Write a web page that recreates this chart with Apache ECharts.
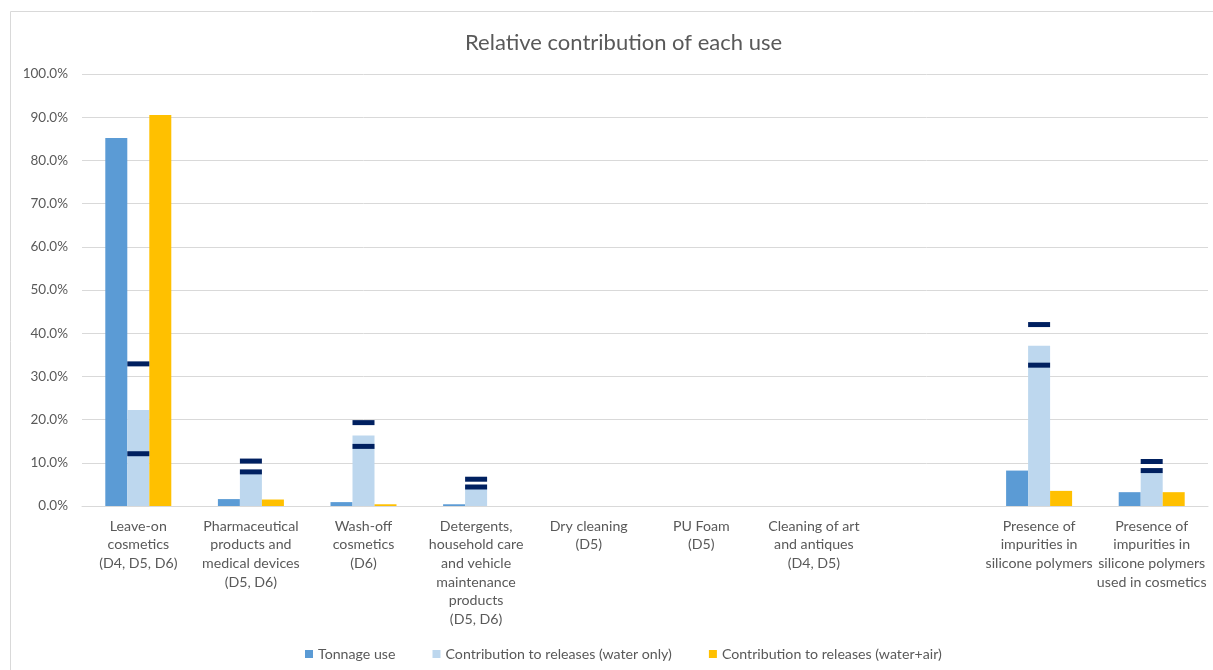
<!DOCTYPE html>
<html>
<head>
<meta charset="utf-8">
<script src="https://cdn.jsdelivr.net/npm/echarts@6/dist/echarts.min.js"></script>
<style>
html,body{margin:0;padding:0;background:#fff;}
#main{width:1213px;height:670px;}
</style>
</head>
<body>
<div id="main"></div>
<script>
const categories = [
  "Leave-on\ncosmetics\n(D4, D5, D6)",
  "Pharmaceutical\nproducts and\nmedical devices\n(D5, D6)",
  "Wash-off\ncosmetics\n(D6)",
  "Detergents,\nhousehold care\nand vehicle\nmaintenance\nproducts\n(D5, D6)",
  "Dry cleaning\n(D5)",
  "PU Foam\n(D5)",
  "Cleaning of art\nand antiques\n(D4, D5)",
  "",
  "Presence of\nimpurities in\nsilicone polymers",
  "Presence of\nimpurities in\nsilicone polymers\nused in cosmetics"
];
const tonnageUse = [85.2, 1.6, 0.9, 0.4, 0, 0, 0, null, 8.2, 3.2];
const waterOnly  = [22.2, 8.0, 16.3, 4.5, 0, 0, 0, null, 37.1, 7.8];
const waterAir   = [90.5, 1.5, 0.4, 0, 0, 0, 0, null, 3.5, 3.2];
const rangeLow   = [12.1, 7.9, 13.8, 4.4, null, null, null, null, 32.6, 8.2];
const rangeHigh  = [32.9, 10.4, 19.3, 6.2, null, null, null, null, 42.0, 10.3];
const seriesNames = ["Tonnage use", "Contribution to releases (water only)", "Contribution to releases (water+air)"];

const FONT = "Lato, 'Liberation Sans', sans-serif";
const chart = echarts.init(document.getElementById('main'));
const markerStyle = {
  type: 'scatter',
  symbol: 'rect',
  symbolSize: [22, 5],
  itemStyle: { color: '#002060', opacity: 1 },
  z: 5,
  silent: true
};
chart.setOption({
  animation: false,
  textStyle: { fontFamily: FONT },
  graphic: [{
    type: 'rect',
    shape: { x: 10.5, y: 11.5, width: 1230, height: 700 },
    style: { fill: 'none', stroke: '#d9d9d9', lineWidth: 1 },
    silent: true
  }],
  title: {
    text: 'Relative contribution of each use',
    left: 460,
    top: 27,
    textStyle: { fontFamily: FONT, fontSize: 22, fontWeight: 'normal', color: '#595959' }
  },
  legend: {
    data: seriesNames,
    bottom: 4,
    left: 300,
    icon: 'rect',
    itemWidth: 8,
    itemHeight: 8,
    itemGap: 37,
    textStyle: { fontFamily: FONT, fontSize: 14.2, color: '#595959' }
  },
  grid: { left: 82, right: 5, top: 74, bottom: 164, containLabel: false },
  xAxis: {
    type: 'category',
    data: categories,
    axisLine: { lineStyle: { color: '#d9d9d9' } },
    axisTick: { show: false },
    axisLabel: {
      interval: 0,
      color: '#595959',
      fontFamily: FONT,
      fontSize: 14.2,
      lineHeight: 18.6,
      margin: 11
    }
  },
  yAxis: {
    type: 'value',
    min: 0,
    max: 100,
    interval: 10,
    axisLine: { show: false },
    axisTick: { show: false },
    splitLine: { lineStyle: { color: '#d9d9d9' } },
    axisLabel: {
      formatter: v => v.toFixed(1) + '%',
      color: '#595959',
      fontFamily: FONT,
      fontSize: 13.5,
      margin: 14
    }
  },
  series: [
    { name: seriesNames[0], type: 'bar', data: tonnageUse, barWidth: 22, barGap: '0%', itemStyle: { color: '#5b9bd5' } },
    { name: seriesNames[1], type: 'bar', data: waterOnly, barWidth: 22, barGap: '0%', itemStyle: { color: '#bdd7ee' } },
    { name: seriesNames[2], type: 'bar', data: waterAir, barWidth: 22, barGap: '0%', itemStyle: { color: '#ffc000' } },
    Object.assign({ name: 'low', data: rangeLow }, markerStyle),
    Object.assign({ name: 'high', data: rangeHigh }, markerStyle)
  ]
});
</script>
</body>
</html>
